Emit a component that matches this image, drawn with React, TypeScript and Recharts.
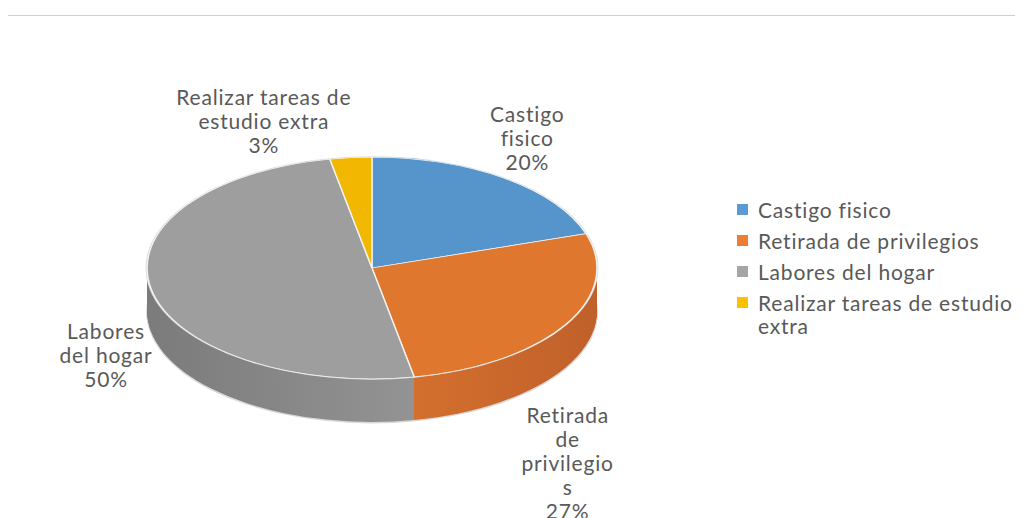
import { Cell, Legend, Pie, PieChart } from "recharts";

const categories = [
  "Castigo fisico",
  "Retirada de privilegios",
  "Labores del hogar",
  "Realizar tareas de estudio extra",
];
const shares = [20, 27, 50, 3];

const legendColors = ["#5b9bd5", "#ed7d31", "#a5a5a5", "#ffc000"];
const topColors = ["#5694cc", "#e0772f", "#9e9e9e", "#f2b700"];
const sideIds = ["sideBlue", "sideOrange", "sideGray", "sideYellow"];

const data = categories.map((name, i) => ({ name, value: shares[i] }));

// fake 3d: the pie is squashed by TILT and stacked DEPTH px deep
const TILT = 0.493;
const CX = 367;
const CY = 252;
const R = 225;
const DEPTH = 43;
const layers = Array.from({ length: DEPTH }, (_, i) => DEPTH - i);
const noMargin = { top: 0, right: 0, bottom: 0, left: 0 };

// label block centre, relative to the rim point of each slice
const labelPlacement = [
  { dx: 23, dy: -40, wrap: 7 },
  { dx: 2, dy: 139, wrap: 10 },
  { dx: -45, dy: 67, wrap: 9 },
  { dx: -87, dy: -36, wrap: 18 },
];

const textColor = "#595959";
const font = "Lato, 'Open Sans', sans-serif";
const fontSize = 21;
const spacing = 0.8;

function wrap(text: string, max: number) {
  const lines: string[] = [];
  let cur = "";
  for (const word of text.split(" ")) {
    let w = word;
    const cand = cur ? cur + " " + w : w;
    if (cand.length <= max) {
      cur = cand;
      continue;
    }
    if (cur) lines.push(cur);
    while (w.length > max) {
      lines.push(w.slice(0, max));
      w = w.slice(max);
    }
    cur = w;
  }
  if (cur) lines.push(cur);
  return lines;
}

const RAD = Math.PI / 180;

function renderLabel(props: any) {
  const { cx, cy, midAngle, outerRadius, index, name, percent } = props;
  const place = labelPlacement[index];
  const x = cx + outerRadius * Math.cos(midAngle * RAD) + place.dx;
  const y = cy - outerRadius * TILT * Math.sin(midAngle * RAD) + place.dy;
  const lines = [...wrap(name, place.wrap), `${Math.round(percent * 100)}%`];
  const lh = 24;
  return (
    <text
      x={x}
      y={y}
      textAnchor="middle"
      fill={textColor}
      fontSize={fontSize}
      fontFamily={font}
      letterSpacing={spacing}
    >
      {lines.map((l, i) => (
        <tspan key={i} x={x} y={y + (i - (lines.length - 1) / 2) * lh} dy="0.35em">
          {l}
        </tspan>
      ))}
    </text>
  );
}

function renderLegend(props: any) {
  const payload = [...(props.payload || [])].sort(
    (a: any, b: any) => categories.indexOf(a.value) - categories.indexOf(b.value)
  );
  return (
    <div
      style={{
        fontFamily: font,
        fontSize,
        letterSpacing: spacing,
        color: textColor,
        lineHeight: "23px",
        whiteSpace: "normal",
      }}
    >
      {payload.map((p: any) => (
        <div key={p.value} style={{ display: "flex", alignItems: "flex-start", marginBottom: 8 }}>
          <span
            style={{
              display: "block",
              width: 11,
              height: 11,
              marginTop: 6,
              marginRight: 10,
              background: p.color,
              flex: "none",
            }}
          />
          <span style={{ display: "block", width: 262, whiteSpace: "normal" }}>{p.value}</span>
        </div>
      ))}
    </div>
  );
}

export default function App() {
  return (
    <div
      style={{
        position: "relative",
        left: -4,
        marginTop: 7,
        width: 1025,
        height: 520,
        borderTop: "1px solid #cfcfcf",
        borderLeft: "2px solid #d2d2d2",
        boxSizing: "border-box",
        overflow: "hidden",
        background: "#fff",
      }}
    >
      <div
        style={{
          position: "absolute",
          left: -1,
          top: 0,
          transform: `scaleY(${TILT})`,
          transformOrigin: "0 0",
        }}
      >
        <PieChart width={1000} height={850} margin={noMargin}>
          <defs>
            <linearGradient id="sideGray" x1="0" x2="1" y1="0" y2="0">
              <stop offset="0%" stopColor="#7b7b7b" />
              <stop offset="100%" stopColor="#939393" />
            </linearGradient>
            <linearGradient id="sideOrange" x1="0" x2="1" y1="0" y2="0">
              <stop offset="0%" stopColor="#d8732f" />
              <stop offset="100%" stopColor="#c0602a" />
            </linearGradient>
            <linearGradient id="sideBlue" x1="0" x2="1" y1="0" y2="0">
              <stop offset="0%" stopColor="#4a80b2" />
              <stop offset="100%" stopColor="#416f9c" />
            </linearGradient>
            <linearGradient id="sideYellow" x1="0" x2="1" y1="0" y2="0">
              <stop offset="0%" stopColor="#d9a300" />
              <stop offset="100%" stopColor="#c79500" />
            </linearGradient>
          </defs>
          <Pie
            data={data}
            dataKey="value"
            cx={CX}
            cy={(CY + DEPTH + 1) / TILT}
            outerRadius={R + 1}
            startAngle={90}
            endAngle={-270}
            fill="#d9d9d9"
            stroke="none"
            isAnimationActive={false}
          />
          {layers.map((d) => (
            <Pie
              key={d}
              data={data}
              dataKey="value"
              cx={CX}
              cy={(CY + d) / TILT}
              outerRadius={R}
              startAngle={90}
              endAngle={-270}
              stroke="none"
              isAnimationActive={false}
            >
              {data.map((e, i) => (
                <Cell key={e.name} fill={`url(#${sideIds[i]})`} />
              ))}
            </Pie>
          ))}
          <Pie
            data={data}
            dataKey="value"
            cx={CX}
            cy={CY / TILT}
            outerRadius={R + 1.5}
            startAngle={90}
            endAngle={-270}
            fill="#dcdcdc"
            stroke="none"
            isAnimationActive={false}
          />
          <Pie
            data={data}
            dataKey="value"
            cx={CX}
            cy={CY / TILT}
            outerRadius={R}
            startAngle={90}
            endAngle={-270}
            stroke="#f2f2f2"
            strokeWidth={1.5}
            isAnimationActive={false}
          >
            {data.map((e, i) => (
              <Cell key={e.name} fill={topColors[i]} />
            ))}
          </Pie>
        </PieChart>
      </div>
      <div style={{ position: "absolute", left: -1, top: 0 }}>
        <PieChart width={1020} height={505} margin={noMargin}>
          <Pie
            data={data}
            dataKey="value"
            nameKey="name"
            cx={CX}
            cy={CY}
            outerRadius={R}
            startAngle={90}
            endAngle={-270}
            stroke="none"
            label={renderLabel}
            labelLine={false}
            isAnimationActive={false}
          >
            {data.map((e, i) => (
              <Cell key={e.name} fill={legendColors[i]} fillOpacity={0} />
            ))}
          </Pie>
          <Legend
            layout="vertical"
            align="right"
            verticalAlign="top"
            content={renderLegend}
            wrapperStyle={{ left: 732, top: 182, width: 290 }}
          />
        </PieChart>
      </div>
    </div>
  );
}
